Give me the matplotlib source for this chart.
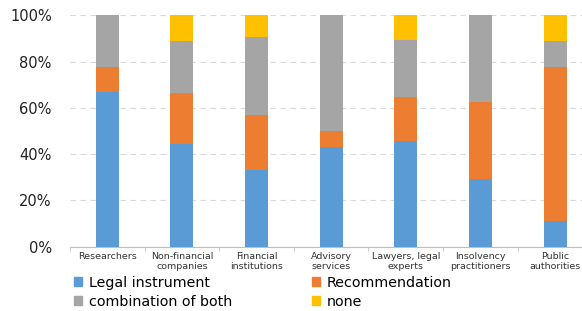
import matplotlib
matplotlib.use("Agg")
import matplotlib.pyplot as plt
from matplotlib.ticker import FuncFormatter, FixedLocator
from matplotlib.patches import Patch
import numpy as np

categories = ["Researchers", "Non-financial\ncompanies", "Financial\ninstitutions",
              "Advisory\nservices", "Lawyers, legal\nexperts", "Insolvency\npractitioners",
              "Public\nauthorities"]
legal = [66.7, 44.4, 33.3, 42.9, 45.7, 29.2, 11.1]
recommendation = [11.1, 22.2, 23.8, 7.1, 18.9, 33.1, 66.7]
combination = [22.2, 22.2, 33.3, 50.0, 24.5, 37.7, 11.1]
none = [0.0, 11.2, 9.6, 0.0, 10.9, 0.0, 11.1]

series = ["Legal instrument", "Recommendation", "combination of both", "none"]
colors = ["#5B9BD5", "#ED7D31", "#A5A5A5", "#FFC000"]

fig = plt.figure(figsize=(5.82, 3.11), dpi=100)
ax = fig.add_axes([0.120, 0.207, 0.898, 0.744])

x = np.arange(len(categories))
bottom = np.zeros(len(categories))
for vals, col in zip([legal, recommendation, combination, none], colors):
    v = np.array(vals) / 100
    ax.bar(x, v, width=0.31, bottom=bottom, color=col, zorder=3)
    bottom += v

ax.set_xlim(-0.5, len(categories) - 0.5)
ax.set_ylim(0, 1)
ax.set_yticks(np.arange(0, 1.01, 0.2))
ax.yaxis.set_major_formatter(FuncFormatter(lambda v, p: f"{v*100:.0f}%"))
ax.tick_params(axis="y", length=0, labelsize=10.5, pad=13, labelcolor="#222222")
ax.grid(axis="y", color="#D9D9D9", linestyle=(0, (5, 4)), linewidth=0.8, zorder=0)

ax.set_xticks(x)
ax.set_xticklabels(categories, fontsize=6.8, color="#333333", linespacing=1.1)
ax.tick_params(axis="x", which="major", length=0, pad=4)
ax.xaxis.set_minor_locator(FixedLocator(np.arange(-0.5, len(categories), 1)))
ax.tick_params(axis="x", which="minor", length=3, color="#BFBFBF")

for s in ["top", "right", "left"]:
    ax.spines[s].set_visible(False)
ax.spines["bottom"].set_color("#BFBFBF")

handles = [Patch(color=c) for c in colors]
order = [0, 2, 1, 3]
fig.legend([handles[i] for i in order], [series[i] for i in order],
           loc="upper left", bbox_to_anchor=(0.128, 0.114), ncol=2, frameon=False,
           fontsize=10.3, handlelength=0.55, handleheight=0.55, handletextpad=0.45,
           columnspacing=5.6, labelspacing=0.35, borderaxespad=0, borderpad=0)

fig.savefig("out.png", dpi=100)
